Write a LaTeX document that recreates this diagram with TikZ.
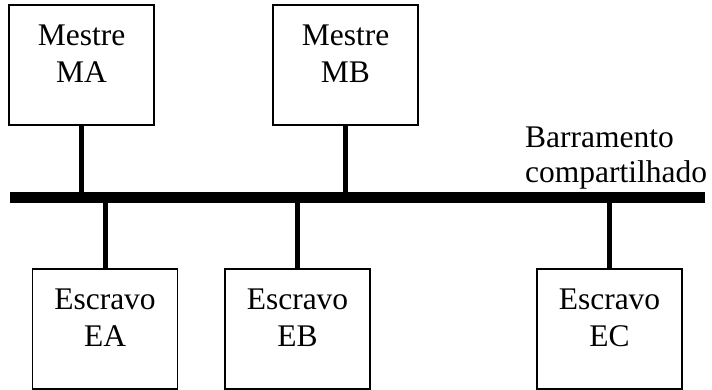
\documentclass[tikz,border=0pt]{standalone}
\usepackage{fontspec}
\setmainfont{Liberation Serif}
\begin{document}
\begin{tikzpicture}[x=1pt,y=-1pt,
  unit/.style={draw=black,line width=1.6pt,minimum width=145pt,minimum height=120pt,inner sep=0pt},
  caption/.style={anchor=north,align=center,inner sep=0pt,font=\fontsize{31.5}{37}\selectfont},
  busbar/.style={fill=black,inner sep=0pt,minimum width=695pt,minimum height=11pt},
  tap/.style={line width=5pt}]
\useasboundingbox (0,0) rectangle (712,390);

% shared bus
\node[busbar] (bus) at (357.5,197.5) {};
\node[anchor=north west,align=left,inner sep=0pt,font=\fontsize{31.5}{35}\selectfont] (buslabel) at (525,127) {Barramento\\compartilhado};

% masters
\node[unit] (ma) at (81.5,65) {};
\node[caption] (matext) at ([yshift=-20pt]ma.north) {Mestre\\MA};
\node[unit] (mb) at (345.5,65) {};
\node[caption] (mbtext) at ([yshift=-20pt]mb.north) {Mestre\\MB};

% slaves
\node[unit] (ea) at (105,329) {};
\node[caption] (eatext) at ([yshift=-20pt]ea.north) {Escravo\\EA};
\node[unit] (eb) at (297.5,329) {};
\node[caption] (ebtext) at ([yshift=-20pt]eb.north) {Escravo\\EB};
\node[unit] (ec) at (609.5,329) {};
\node[caption] (ectext) at ([yshift=-20pt]ec.north) {Escravo\\EC};

% taps onto the bus
\draw[tap] (ma.south) -- (ma.south |- bus.north);
\draw[tap] (mb.south) -- (mb.south |- bus.north);
\draw[tap] (ea.north) -- (ea.north |- bus.south);
\draw[tap] (eb.north) -- (eb.north |- bus.south);
\draw[tap] (ec.north) -- (ec.north |- bus.south);
\end{tikzpicture}
\end{document}
